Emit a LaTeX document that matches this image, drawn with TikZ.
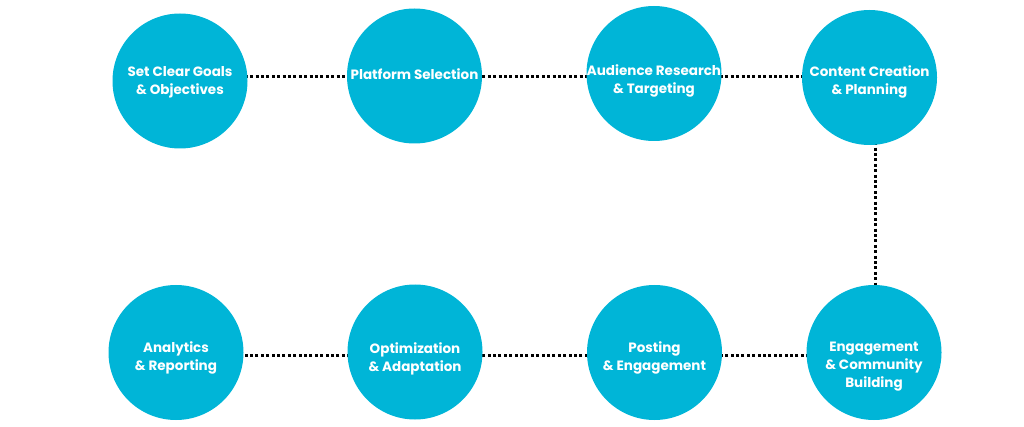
\documentclass[tikz,border=0pt]{standalone}
\usepackage{fontspec}
\setmainfont{Poppins}
\usetikzlibrary{backgrounds}
\definecolor{stepcyan}{HTML}{00B5D7}

\begin{document}
\begin{tikzpicture}[x=1pt, y=-1pt,
    stage/.style={circle, fill=stepcyan, minimum size=135pt, inner sep=0pt},
    txt/.style={text=white, align=center, font=\bfseries\fontsize{13.5}{18}\selectfont},
    link/.style={line width=3pt, dash pattern=on 3pt off 2.4pt}]
  \useasboundingbox (0,0) rectangle (1024,427);
  \coordinate (top) at (0,77);
  \coordinate (bot) at (0,355);
  \coordinate (side) at (875,0);

  \node[stage] (goals) at (180,81) {};
  \node[stage] (platform) at (414.5,76) {};
  \node[stage] (audience) at (654,73.5) {};
  \node[stage] (content) at (869.5,77.5) {};
  \node[stage] (analytics) at (176,352.5) {};
  \node[stage] (optim) at (415,352) {};
  \node[stage] (posting) at (654.5,352.5) {};
  \node[stage] (engage) at (874,352.5) {};

  \node[txt] (goalst) at (180,82) {Set Clear Goals\\ \& Objectives};
  \node[txt] (platformt) at (414.5,74) {Platform Selection};
  \node[txt] (audiencet) at (654,81) {Audience Research\\ \& Targeting};
  \node[txt] (contentt) at (869.5,82) {Content Creation\\ \& Planning};
  \node[txt] (analyticst) at (176,358) {Analytics\\ \& Reporting};
  \node[txt] (optimt) at (415,359) {Optimization\\ \& Adaptation};
  \node[txt] (postingt) at (654.5,358) {Posting\\ \& Engagement};
  \node[txt] (engaget) at (874,367) {Engagement\\ \& Community\\ Building};

  \begin{scope}[on background layer]
    \draw[link] (goals |- top) -- (platform |- top) -- (audience |- top) -- (content |- top);
    \draw[link] (content -| side) -- (engage -| side);
    \draw[link] (engage |- bot) -- (posting |- bot) -- (optim |- bot) -- (analytics |- bot);
  \end{scope}
\end{tikzpicture}
\end{document}
